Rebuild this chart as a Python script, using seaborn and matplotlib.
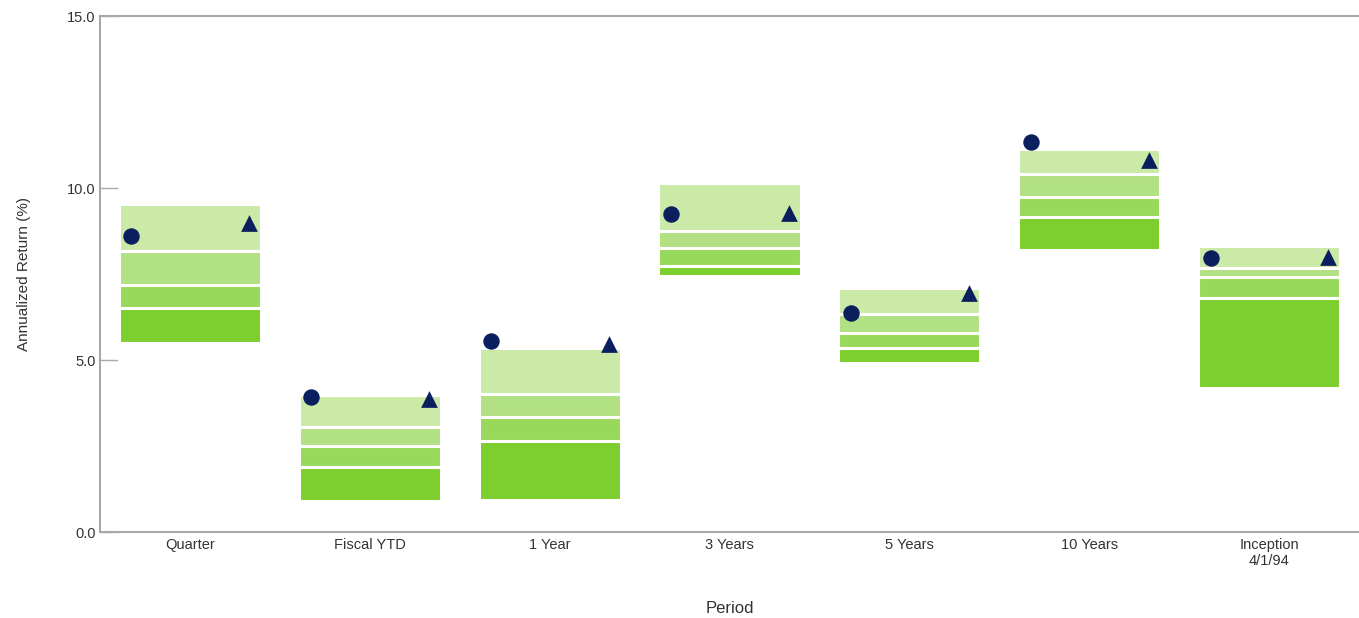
import matplotlib
matplotlib.use("Agg")
import matplotlib.pyplot as plt
import seaborn as sns
import pandas as pd

# Percentile bands of the peer universe (annualized return, %)
periods = ["Quarter", "Fiscal YTD", "1 Year", "3 Years", "5 Years", "10 Years", "Inception\n4/1/94"]
pct_5 = [9.53, 3.98, 5.35, 10.15, 7.08, 11.12, 8.31]
pct_25 = [8.17, 3.06, 4.01, 8.76, 6.33, 10.42, 7.68]
pct_50 = [7.17, 2.50, 3.33, 8.25, 5.78, 9.75, 7.42]
pct_75 = [6.51, 1.88, 2.65, 7.74, 5.35, 9.17, 6.79]
pct_95 = [5.49, 0.90, 0.93, 7.44, 4.92, 8.20, 4.18]

# Fund and benchmark returns
fund = [8.60, 3.93, 5.55, 9.24, 6.36, 11.34, 7.96]
benchmark = [8.97, 3.86, 5.47, 9.28, 6.96, 10.81, 8.00]

band_colors = ["#cbeaa8", "#b2e183", "#98d85a", "#7dcf2f"]
marker_color = "#0b1f5e"
text_color = "#333333"
spine_color = "#a8a8a8"

sns.set_theme(style="white")
plt.rcParams["font.family"] = ["Liberation Sans Narrow", "Liberation Sans", "DejaVu Sans"]

fig = plt.figure(figsize=(13.59, 6.18), dpi=100)
ax = fig.add_axes([100 / 1359, 1 - 532 / 618, 1 - 100 / 1359, (532 - 16) / 618])

df = pd.DataFrame({"period": periods, "p5": pct_5, "p25": pct_25, "p50": pct_50,
                   "p75": pct_75, "p95": pct_95, "fund": fund, "bench": benchmark})

# Bands are layered from the top of the range downward; the final white bar
# clears the area below the 95th percentile.
layers = [("p5", band_colors[0]), ("p25", band_colors[1]), ("p50", band_colors[2]),
          ("p75", band_colors[3]), ("p95", "white")]
for col, color in layers:
    sns.barplot(data=df, x="period", y=col, color=color, width=0.79,
                edgecolor="white", linewidth=2.2, saturation=1, ax=ax, zorder=2)

# Fund (circle) near the left of each band, benchmark (triangle) near the right
xpos = list(range(len(periods)))
ax.scatter([x - 0.325 for x in xpos], df["fund"], marker="o", s=140,
           color=marker_color, zorder=4, linewidths=0)
ax.scatter([x + 0.33 for x in xpos], df["bench"], marker="^", s=145,
           color=marker_color, zorder=4, linewidths=0)

ax.set_xlim(-0.5, 6.5)
ax.set_ylim(0, 15)
ax.set_yticks([0, 5, 10, 15])
ax.set_yticklabels(["0.0", "5.0", "10.0", "15.0"])
ax.tick_params(axis="y", direction="in", length=13, width=1, color=spine_color,
               labelsize=10.5, labelcolor=text_color, pad=3, left=True)
ax.tick_params(axis="x", length=0, labelsize=10.5, labelcolor=text_color, pad=4)

ax.set_xlabel("Period", fontsize=12, color=text_color, labelpad=24)
ax.set_ylabel("Annualized Return (%)", fontsize=11, color=text_color, labelpad=26)

for side in ["left", "top", "bottom"]:
    ax.spines[side].set_visible(True)
    ax.spines[side].set_color(spine_color)
    ax.spines[side].set_linewidth(1.5)
ax.spines["right"].set_visible(False)

fig.savefig("out.png", dpi=100, facecolor="white")
